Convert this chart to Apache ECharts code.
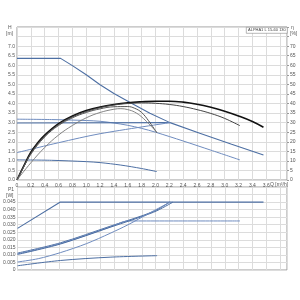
<!DOCTYPE html>
<html>
<head>
<meta charset="utf-8">
<script src="https://cdn.jsdelivr.net/npm/echarts@6/dist/echarts.min.js"></script>
<style>
html,body{margin:0;padding:0;background:#fff}
#main{width:300px;height:300px}
</style>
</head>
<body>
<div id="main"></div>
<script>
// pump curves, Q [m3/h] against H [m]
var hMax = [[0,6.36],[0.63,6.36],[0.8,5.98],[1.0,5.5],[1.2,4.98],[1.4,4.52],[1.66,4.0],[1.92,3.49],[2.21,3.0],[2.64,2.44],[3.1,1.87],[3.56,1.31]];
var hUpper = [[0,3.18],[0.5,3.16],[1.0,3.11],[1.2,3.07],[1.4,2.98],[1.6,2.86],[1.8,2.7],[2.0,2.5],[2.4,2.04],[2.8,1.56],[3.22,1.05]];
var hCp = [[0,2.98],[2.21,3.0]];
var hPp = [[0,1.43],[0.6,1.95],[1.2,2.42],[2.21,3.0]];
var hLow = [[0,1.05],[0.5,1.03],[1.0,0.96],[1.2,0.91],[1.5,0.78],[1.8,0.6],[2.02,0.44]];

// efficiency, eta [%]
var eta1 = [[0,0],[0.1,7.5],[0.2,14.5],[0.3,19.5],[0.4,23.5],[0.6,29.5],[0.8,33.5],[1.0,36.3],[1.2,38.2],[1.4,39.5],[1.6,40.4],[1.8,40.9],[2.0,41.2],[2.2,41.2],[2.4,40.7],[2.6,39.6],[2.8,38],[3.0,36],[3.2,33.5],[3.4,30.6],[3.56,27.6]];
var eta2 = [[0,0],[0.1,7.2],[0.2,14],[0.3,19],[0.4,23],[0.6,29],[0.8,33],[1.0,35.8],[1.2,37.8],[1.4,39.2],[1.6,40],[1.8,40.3],[2.0,40.1],[2.2,39.5],[2.4,38.4],[2.6,36.8],[2.8,34.8],[3.0,32.2],[3.22,28.4]];
var eta3 = [[0,0],[0.1,7],[0.2,13.5],[0.4,22.5],[0.6,28.5],[0.8,32.5],[1.0,35.3],[1.2,37.2],[1.4,38.3],[1.6,38.4],[1.7,37.5],[1.8,35.3],[1.9,31],[2.02,24.7]];
var eta4 = [[0,0],[0.2,9],[0.4,17],[0.6,23.5],[0.8,28.5],[1.0,32.5],[1.2,35.3],[1.4,37],[1.5,37.3],[1.6,36.8],[1.7,35.5],[1.8,33],[1.9,29.5],[2.02,25]];

// power, P1 [W]
var pMax = [[0,0.0276],[0.62,0.045],[3.56,0.045]];
var pCp = [[0,0.0112],[0.62,0.018],[1.34,0.029],[1.97,0.0388],[2.2,0.045]];
var pUpper = [[0,0.0107],[0.62,0.0175],[1.34,0.0285],[1.6,0.0325],[3.22,0.0325]];
var pMid = [[0,0.0103],[0.62,0.0172],[1.34,0.0283],[1.97,0.0383],[2.25,0.045]];
var pPp = [[0,0.0053],[0.3,0.0075],[0.62,0.0115],[1.0,0.0175],[1.34,0.0243],[1.6,0.03],[1.9,0.0375],[2.21,0.045]];
var pLow = [[0,0.0028],[0.62,0.0063],[1.34,0.0085],[2.02,0.0095]];

var chartTitle = 'ALPHA1 L 15-60 130';

var myChart = echarts.init(document.getElementById('main'), null, {renderer: 'canvas'});
var blue = '#4d6fa3';
var lblue = '#6f8cbf';
var font = 'Liberation Sans';

function lbl(extra) {
	var o = {fontSize: 5, color: '#555', fontFamily: font, margin: 2};
	for (var k in extra) o[k] = extra[k];
	return o;
}

function line(name, data, x, y, color, width, smooth) {
	return {
		name: name, type: 'line', xAxisIndex: x, yAxisIndex: y,
		data: data, showSymbol: false, smooth: smooth || false,
		lineStyle: {color: color, width: width},
		z: 3, silent: true
	};
}

function txt(x, y, s) {
	return {type: 'text', left: x, top: y, style: {text: s, fill: '#555', font: '5px ' + font}};
}

var option = {
	animation: false,
	grid: [
		{left: 17, right: 13, top: 27, height: 153, show: true, borderColor: '#999', borderWidth: 1},
		{left: 17, right: 13, top: 187, height: 83, show: true, borderColor: '#999', borderWidth: 1}
	],
	xAxis: [{
		gridIndex: 0, type: 'value', min: 0, max: 3.9, interval: 0.2,
		axisLine: {show: false}, axisTick: {show: false},
		splitLine: {lineStyle: {color: '#dcdcdc', width: 1}},
		axisLabel: lbl({margin: 3, formatter: function(v){
			if (v > 3.7) return '';
			return v == 0 ? '0' : v.toFixed(1);
		}})
	}, {
		gridIndex: 1, type: 'value', min: 0, max: 3.9, interval: 0.2,
		axisLine: {show: false}, axisTick: {show: false},
		splitLine: {lineStyle: {color: '#dcdcdc', width: 1}},
		axisLabel: {show: false}
	}],
	yAxis: [{
		gridIndex: 0, type: 'value', min: 0, max: 8, interval: 0.5,
		axisLine: {show: false}, axisTick: {show: false},
		splitLine: {lineStyle: {color: '#dcdcdc', width: 1}},
		axisLabel: lbl({formatter: function(v){ return v > 7.01 ? '' : v.toFixed(1); }})
	}, {
		gridIndex: 0, type: 'value', min: 0, max: 80, interval: 5, position: 'right',
		axisLine: {show: false}, axisTick: {show: true, length: 2, lineStyle: {color: '#999'}},
		splitLine: {show: false},
		axisLabel: lbl({margin: 3, formatter: function(v){ return v > 70.1 ? '' : String(v); }})
	}, {
		gridIndex: 1, type: 'value', min: 0, max: 0.055, interval: 0.005,
		axisLine: {show: false}, axisTick: {show: false},
		splitLine: {lineStyle: {color: '#dcdcdc', width: 1}},
		axisLabel: lbl({formatter: function(v){
			if (v > 0.0451) return '';
			return v == 0 ? '0' : v.toFixed(3);
		}})
	}],
	graphic: [
		txt(8, 25, 'H'),
		txt(6, 31, '[m]'),
		txt(291, 25, 'η'),
		txt(290, 31, '[%]'),
		txt(8, 187, 'P1'),
		txt(6, 193, '[W]'),
		txt(270, 182, 'Q [m³/h]'),
		{type: 'rect', left: 246, top: 27, shape: {width: 41, height: 6}, style: {fill: '#fff', stroke: '#888', lineWidth: 0.6}, z: 10},
		{type: 'text', left: 248, top: 28, z: 11, style: {text: chartTitle, fill: '#444', font: '4px ' + font}}
	],
	series: [
		line('max', hMax, 0, 0, blue, 1.1),
		line('upper', hUpper, 0, 0, lblue, 1, 0.3),
		line('cp', hCp, 0, 0, blue, 1.1),
		line('pp', hPp, 0, 0, lblue, 1, 0.3),
		line('low', hLow, 0, 0, blue, 1, 0.3),
		line('eta1', eta1, 0, 1, '#111', 1.6, 0.4),
		line('eta2', eta2, 0, 1, '#444', 1, 0.4),
		line('eta3', eta3, 0, 1, '#555', 1, 0.4),
		line('eta4', eta4, 0, 1, '#777', 0.9, 0.4),
		line('p max', pMax, 1, 2, blue, 1.1),
		line('p cp', pCp, 1, 2, blue, 1, 0.3),
		line('p upper', pUpper, 1, 2, lblue, 1, 0.3),
		line('p mid', pMid, 1, 2, blue, 1, 0.3),
		line('p pp', pPp, 1, 2, lblue, 1, 0.3),
		line('p low', pLow, 1, 2, blue, 1, 0.3)
	]
};

myChart.setOption(option);
window.onresize = myChart.resize;
</script>
</body>
</html>
